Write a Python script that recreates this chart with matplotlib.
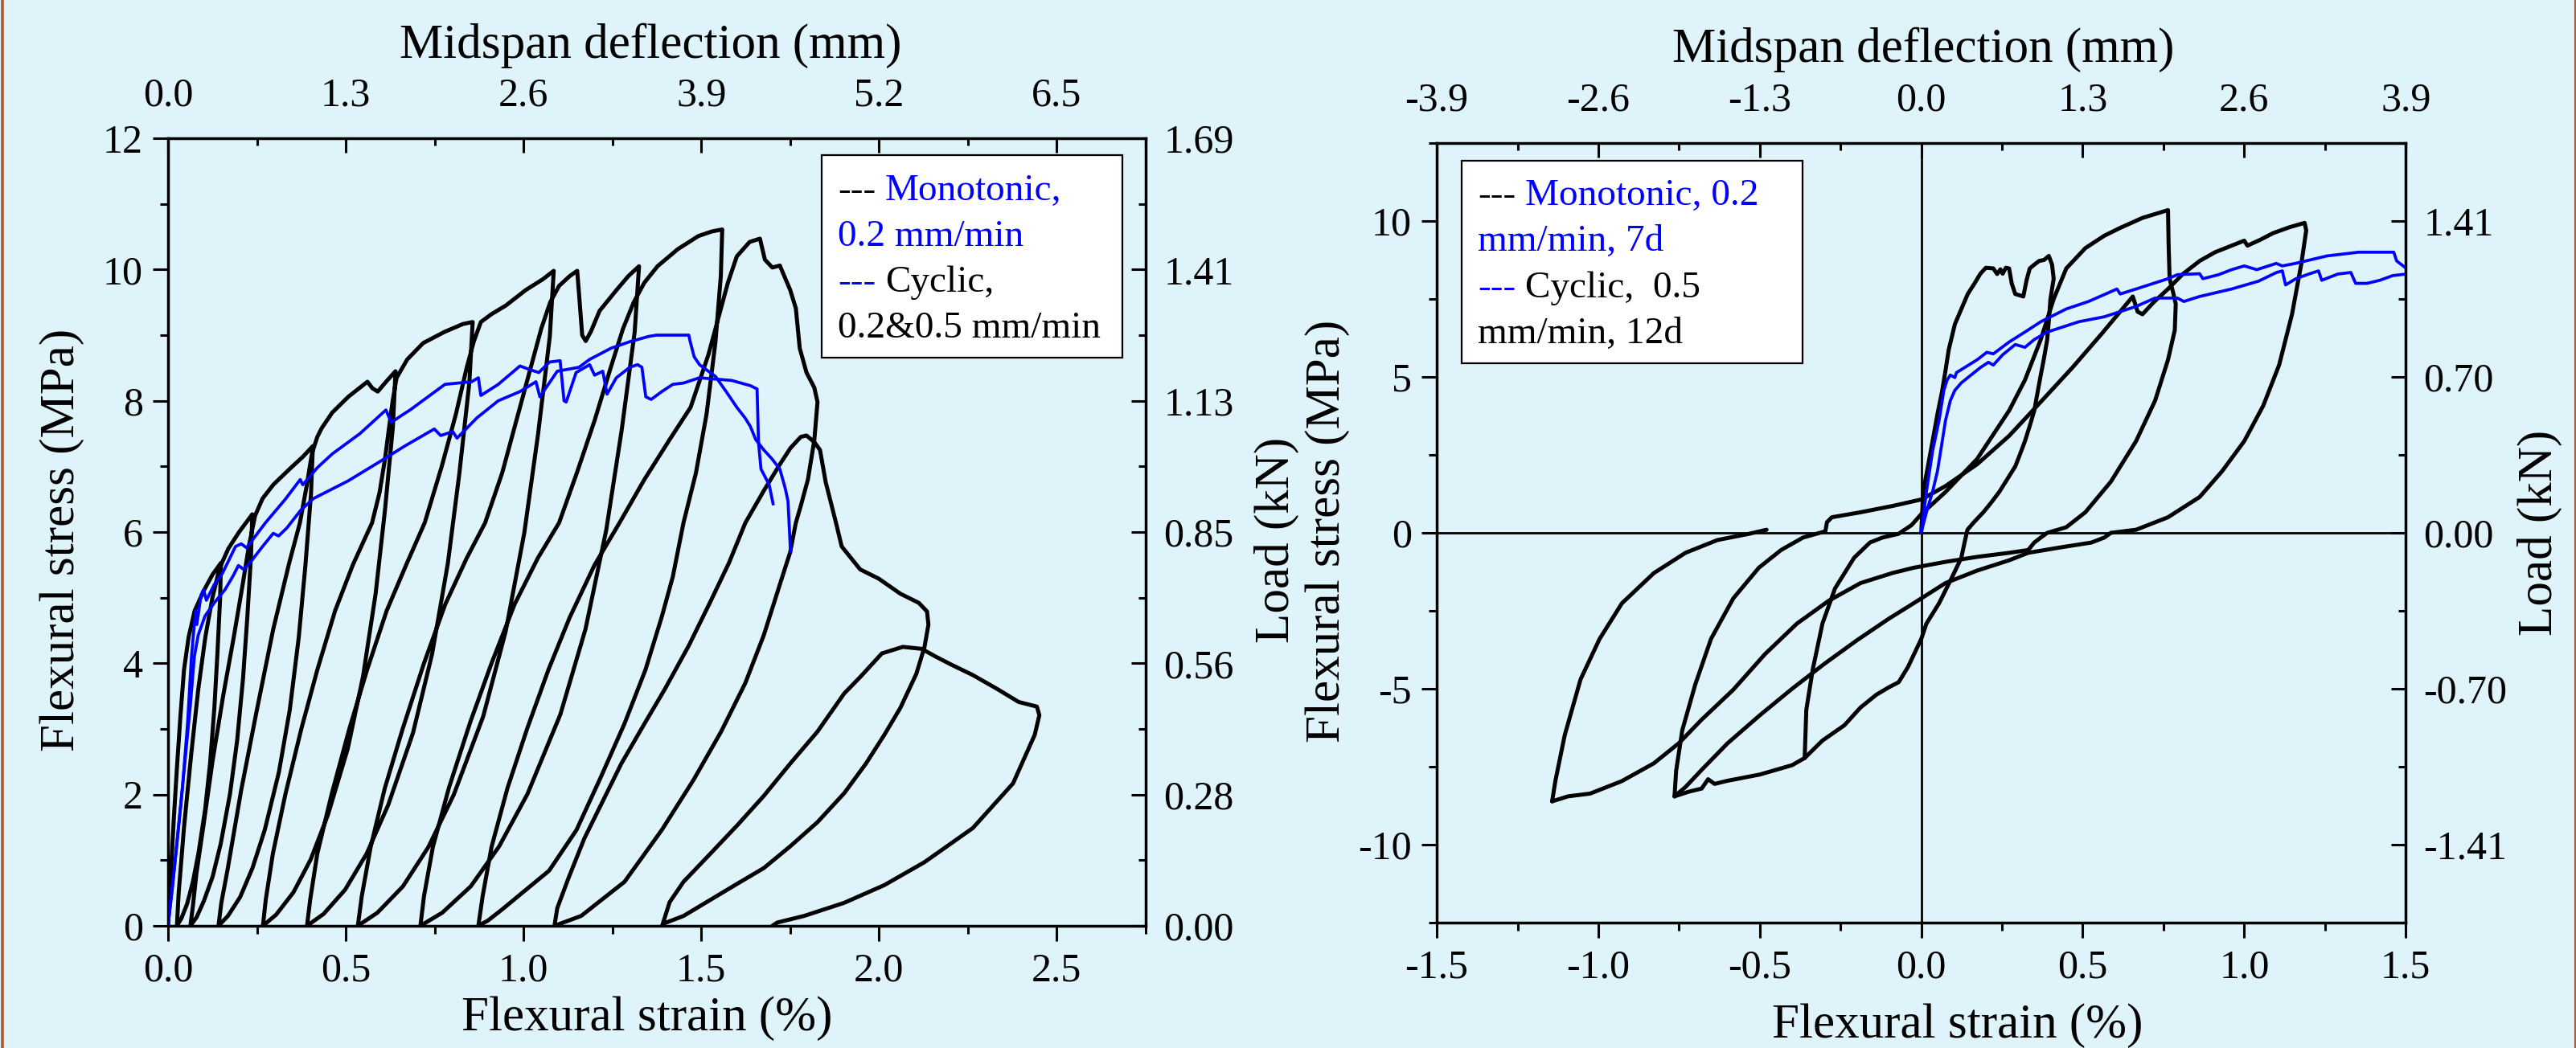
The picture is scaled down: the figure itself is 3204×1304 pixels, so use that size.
import matplotlib
matplotlib.use("Agg")
import matplotlib.pyplot as plt
from matplotlib.ticker import MultipleLocator
from matplotlib.lines import Line2D

plt.rcParams['font.family'] = ['Liberation Serif', 'DejaVu Serif']

BG = '#dff3fa'
BLUE = '#0000ff'

# ---------------- left panel: cyclic test (strain %, stress MPa) ----------------
L_load0 = [(0, 0), (0.008, 0.8), (0.016, 1.6), (0.025, 2.4), (0.035, 3.2), (0.045, 3.9), (0.058, 4.4),
           (0.075, 4.8), (0.10, 5.1), (0.125, 5.35), (0.149, 5.53)]
L_unload1 = [(0.1465, 4.98), (0.139, 4.15), (0.1304, 3.32), (0.1186, 2.49), (0.1044, 1.77), (0.0858, 1.11),
             (0.0696, 0.66), (0.0535, 0.33), (0.0374, 0.11), (0.025, 0)]
L_reload1 = [(0.03, 0.5), (0.045, 1.5), (0.065, 2.6), (0.085, 3.6), (0.105, 4.4), (0.125, 5.0), (0.145, 5.45),
             (0.17, 5.75), (0.2, 6.0), (0.237, 6.27)]
L_unload2 = [(0.2335, 5.64), (0.2231, 4.70), (0.2109, 3.76), (0.1944, 2.82), (0.1744, 2.01), (0.1483, 1.25),
             (0.1256, 0.75), (0.101, 0.38), (0.0804, 0.13), (0.063, 0)]
L_reload2 = [(0.07, 0.3), (0.08, 0.8), (0.099, 1.5), (0.125, 2.5), (0.155, 3.5), (0.185, 4.4), (0.21, 5.2),
             (0.228, 5.8), (0.245, 6.25), (0.266, 6.51), (0.296, 6.72), (0.342, 6.96), (0.38, 7.15), (0.4075, 7.31)]
L_unload3 = [(0.4022, 6.58), (0.3863, 5.48), (0.3677, 4.39), (0.3425, 3.29), (0.3119, 2.34), (0.2721, 1.46),
             (0.2376, 0.88), (0.2031, 0.44), (0.1685, 0.15), (0.142, 0)]
L_reload3 = [(0.150, 0.35), (0.167, 0.84), (0.206, 2.07), (0.25, 3.29), (0.296, 4.52), (0.341, 5.53), (0.371, 6.14),
             (0.39, 6.7), (0.405, 7.2), (0.42, 7.45), (0.432, 7.58), (0.462, 7.82), (0.507, 8.06), (0.561, 8.29),
             (0.575, 8.19), (0.59, 8.14), (0.615, 8.3), (0.64, 8.45)]
L_unload4 = [(0.6325, 7.60), (0.6102, 6.33), (0.584, 5.06), (0.5486, 3.80), (0.5057, 2.70), (0.4498, 1.69),
             (0.4013, 1.01), (0.3528, 0.51), (0.3043, 0.17), (0.267, 0)]
L_reload4 = [(0.275, 0.4), (0.295, 1.1), (0.33, 2.0), (0.375, 3.0), (0.42, 3.9), (0.47, 4.8), (0.52, 5.5),
             (0.574, 6.14), (0.595, 6.6), (0.61, 7.1), (0.622, 7.6), (0.632, 8.0), (0.643, 8.35), (0.673, 8.63),
             (0.718, 8.88), (0.778, 9.05), (0.83, 9.17), (0.857, 9.2)]
L_unload5 = [(0.8477, 8.28), (0.8197, 6.90), (0.7871, 5.52), (0.7428, 4.14), (0.6892, 2.94), (0.6193, 1.84),
             (0.5588, 1.10), (0.4982, 0.55), (0.4376, 0.18), (0.391, 0)]
L_reload5 = [(0.40, 0.4), (0.42, 1.1), (0.46, 2.0), (0.51, 3.0), (0.56, 3.9), (0.615, 4.8), (0.67, 5.5),
             (0.722, 6.14), (0.77, 7.0), (0.81, 7.8), (0.84, 8.5), (0.86, 8.9), (0.88, 9.2), (0.91, 9.32),
             (0.95, 9.45), (1.007, 9.69), (1.054, 9.85), (1.085, 9.98)]
L_unload6 = [(1.074, 8.98), (1.0409, 7.49), (1.0023, 5.99), (0.95, 4.49), (0.8866, 3.19), (0.804, 2.0),
             (0.7324, 1.20), (0.6607, 0.60), (0.5891, 0.20), (0.534, 0)]
L_reload6 = [(0.545, 0.45), (0.57, 1.2), (0.61, 2.1), (0.66, 3.0), (0.72, 4.0), (0.78, 4.9), (0.84, 5.6),
             (0.892, 6.14), (0.94, 6.9), (0.98, 7.7), (1.02, 8.5), (1.05, 9.1), (1.075, 9.5), (1.10, 9.75),
             (1.13, 9.9), (1.151, 9.98), (1.158, 9.5), (1.165, 9.0), (1.175, 8.91), (1.19, 9.06), (1.214, 9.37),
             (1.226, 9.45), (1.262, 9.69), (1.295, 9.9), (1.325, 10.05)]
L_unload8 = [(1.3127, 9.05), (1.2758, 7.54), (1.2327, 6.03), (1.1743, 4.52), (1.1036, 3.22), (1.0113, 2.01),
             (0.9314, 1.21), (0.8514, 0.60), (0.7715, 0.20), (0.71, 0)]
L_reload8 = [(0.72, 0.45), (0.745, 1.2), (0.79, 2.1), (0.85, 3.1), (0.91, 4.0), (0.975, 4.9), (1.04, 5.6),
             (1.10, 6.14), (1.15, 6.9), (1.20, 7.7), (1.245, 8.5), (1.28, 9.1), (1.31, 9.5), (1.34, 9.8),
             (1.377, 10.05), (1.434, 10.31), (1.492, 10.51), (1.53, 10.58), (1.559, 10.61)]
L_unload9 = [(1.555, 9.9), (1.54, 8.9), (1.515, 7.8), (1.485, 6.9), (1.45, 6.14), (1.42, 5.32), (1.389, 4.71),
             (1.343, 3.90), (1.284, 3.08), (1.217, 2.26), (1.149, 1.46), (1.072, 0.84), (0.998, 0.51),
             (0.94, 0.25), (0.90, 0.08), (0.873, 0)]
L_reload9 = [(0.885, 0.45), (0.91, 1.2), (0.955, 2.1), (1.01, 3.0), (1.07, 3.9), (1.13, 4.7), (1.2, 5.5),
             (1.27, 6.14), (1.34, 6.8), (1.41, 7.4), (1.47, 7.9), (1.52, 8.7), (1.55, 9.3), (1.575, 9.8),
             (1.60, 10.2), (1.636, 10.42), (1.665, 10.47)]
L_soften10 = [(1.679, 10.15), (1.70, 10.03), (1.721, 10.06), (1.75, 9.69), (1.766, 9.41), (1.777, 8.80),
              (1.796, 8.43), (1.818, 8.2), (1.827, 7.98)]
L_unloadC1 = [(1.818, 7.4), (1.80, 6.8), (1.78, 6.4), (1.766, 6.14), (1.75, 5.69), (1.721, 5.20), (1.676, 4.43),
              (1.624, 3.70), (1.556, 2.96), (1.479, 2.23), (1.389, 1.46), (1.284, 0.67), (1.162, 0.15), (1.087, 0)]
L_reloadC1 = [(1.095, 0.27), (1.126, 0.72), (1.171, 1.33), (1.223, 1.90), (1.275, 2.47), (1.337, 3.05),
              (1.398, 3.61), (1.465, 4.27), (1.524, 4.92), (1.578, 5.53), (1.624, 6.14), (1.676, 6.63),
              (1.721, 7.03), (1.751, 7.28), (1.78, 7.45), (1.796, 7.47)]
L_soften11 = [(1.818, 7.37), (1.834, 7.25), (1.85, 6.76), (1.879, 6.14), (1.895, 5.78), (1.947, 5.43),
              (1.999, 5.29), (2.06, 5.06), (2.112, 4.92), (2.135, 4.79), (2.139, 4.59)]
L_unloadC2 = [(2.128, 4.25), (2.105, 3.84), (2.06, 3.32), (2.015, 2.91), (1.963, 2.47), (1.902, 2.02),
              (1.827, 1.58), (1.75, 1.21), (1.676, 0.88), (1.601, 0.64), (1.524, 0.39), (1.45, 0.15),
              (1.397, 0.04), (1.39, 0)]
L_reloadC2 = [(1.411, 0.36), (1.45, 0.67), (1.524, 1.09), (1.601, 1.53), (1.676, 1.98), (1.75, 2.47),
              (1.827, 2.96), (1.902, 3.54), (1.947, 3.79), (2.008, 4.15), (2.067, 4.25)]
L_soften12 = [(2.12, 4.22), (2.16, 4.1), (2.203, 3.98), (2.264, 3.82), (2.332, 3.61), (2.393, 3.41),
              (2.444, 3.34), (2.451, 3.21)]
L_unloadC3 = [(2.438, 2.91), (2.377, 2.17), (2.264, 1.49), (2.128, 0.97), (2.015, 0.62), (1.902, 0.35),
              (1.789, 0.15), (1.714, 0.05), (1.70, 0)]

left_cyclic = [L_load0, L_unload1, L_reload1, L_unload2, L_reload2, L_unload3, L_reload3, L_unload4,
               L_reload4, L_unload5, L_reload5, L_unload6, L_reload6, L_unload8, L_reload8, L_unload9,
               L_reload9, L_soften10, L_unloadC1, L_reloadC1, L_soften11, L_unloadC2, L_reloadC2,
               L_soften12, L_unloadC3]

# left panel: monotonic tests
L_mono_a = [(0, 0), (0.017, 0.84), (0.04, 2.06), (0.055, 3.08), (0.066, 4.10), (0.074, 4.59), (0.078, 4.80),
            (0.081, 4.59), (0.093, 5.04), (0.10, 5.12), (0.108, 4.96), (0.13, 5.20), (0.153, 5.37), (0.19, 5.78),
            (0.206, 5.82), (0.221, 5.76), (0.274, 6.14), (0.33, 6.5), (0.372, 6.80), (0.379, 6.72), (0.42, 6.98),
            (0.462, 7.19), (0.54, 7.5), (0.613, 7.86), (0.628, 7.67), (0.658, 7.78), (0.681, 7.86), (0.779, 8.25),
            (0.854, 8.29), (0.873, 8.35), (0.88, 8.08), (0.929, 8.25), (0.99, 8.53), (1.02, 8.47), (1.043, 8.43),
            (1.073, 8.59), (1.103, 8.61), (1.114, 8.0), (1.12, 7.98), (1.148, 8.43), (1.186, 8.55), (1.20, 8.39),
            (1.223, 8.45), (1.235, 8.10), (1.261, 8.35), (1.299, 8.51), (1.321, 8.55), (1.333, 8.51),
            (1.344, 8.06), (1.359, 8.02), (1.389, 8.14), (1.42, 8.25), (1.45, 8.27), (1.495, 8.35), (1.54, 8.33),
            (1.585, 8.31), (1.638, 8.23), (1.657, 8.18), (1.661, 7.37), (1.668, 6.96), (1.691, 6.72),
            (1.702, 6.43)]
L_mono_b = [(0, 0), (0.012, 0.56), (0.025, 1.25), (0.047, 2.47), (0.063, 3.37), (0.074, 4.10), (0.085, 4.43),
            (0.104, 4.72), (0.13, 4.92), (0.16, 5.12), (0.183, 5.33), (0.198, 5.49), (0.213, 5.43), (0.236, 5.57),
            (0.266, 5.78), (0.296, 5.98), (0.311, 5.94), (0.334, 6.06), (0.373, 6.33), (0.409, 6.51),
            (0.507, 6.78), (0.598, 7.08), (0.666, 7.31), (0.749, 7.57), (0.767, 7.47), (0.801, 7.53),
            (0.813, 7.43), (0.869, 7.74), (0.929, 8.0), (0.99, 8.14), (1.035, 8.29), (1.046, 8.06), (1.095, 8.45),
            (1.156, 8.51), (1.186, 8.63), (1.246, 8.80), (1.299, 8.90), (1.352, 8.98), (1.374, 9.0), (1.465, 9.0),
            (1.468, 8.92), (1.48, 8.67), (1.495, 8.55), (1.525, 8.43), (1.54, 8.37), (1.57, 8.14), (1.60, 7.90),
            (1.623, 7.74), (1.638, 7.61), (1.653, 7.41), (1.676, 7.25), (1.698, 7.12), (1.721, 6.96),
            (1.736, 6.67), (1.744, 6.47), (1.747, 6.14), (1.751, 5.70)]

# ---------------- right panel: reversed cyclic test ----------------
R_cycle1 = [(0, 0), (0.006, 1.32), (0.02, 2.1), (0.035, 2.94), (0.05, 3.8), (0.065, 4.57), (0.075, 5.2),
            (0.085, 5.87), (0.095, 6.3), (0.104, 6.69), (0.125, 7.2), (0.144, 7.66), (0.165, 8.0), (0.183, 8.31),
            (0.2, 8.5), (0.223, 8.48), (0.235, 8.3), (0.245, 8.45), (0.252, 8.31), (0.262, 8.5), (0.272, 8.48),
            (0.28, 8.0), (0.291, 7.66), (0.316, 7.58), (0.326, 8.1), (0.336, 8.48), (0.35, 8.6), (0.365, 8.72),
            (0.38, 8.75), (0.395, 8.88), (0.405, 8.6), (0.41, 8.15), (0.40, 7.5), (0.395, 6.8), (0.39, 6.2),
            (0.38, 5.6), (0.37, 5.06), (0.36, 4.5), (0.35, 3.92), (0.335, 3.4), (0.321, 2.94), (0.305, 2.5),
            (0.291, 2.13), (0.265, 1.7), (0.242, 1.32), (0.215, 0.95), (0.193, 0.67), (0.163, 0.34),
            (0.143, 0.10), (0.134, -0.31), (0.124, -0.80), (0.094, -1.45), (0.055, -2.26), (0.016, -2.91),
            (0.0, -3.4), (-0.041, -4.30), (-0.07, -4.79), (-0.1, -4.95), (-0.139, -5.19), (-0.188, -5.60),
            (-0.238, -6.17), (-0.306, -6.66), (-0.361, -7.22)]
R_cycle2 = [(-0.361, -7.22), (-0.356, -5.68), (-0.336, -4.38), (-0.306, -2.91), (-0.267, -1.78), (-0.208, -0.80),
            (-0.159, -0.31), (-0.12, -0.15), (-0.07, -0.03), (-0.03, 0.25), (0.0, 0.6), (0.075, 1.31),
            (0.173, 2.37), (0.272, 3.92), (0.321, 4.90), (0.37, 6.20), (0.41, 7.50), (0.449, 8.48), (0.508, 9.13),
            (0.567, 9.53), (0.616, 9.78), (0.685, 10.10), (0.764, 10.35), (0.766, 9.2), (0.769, 8.15), (0.78, 7.7),
            (0.788, 7.34), (0.785, 6.5), (0.764, 5.55), (0.724, 4.24), (0.665, 2.94), (0.587, 1.64), (0.508, 0.66),
            (0.449, 0.18), (0.39, 0.0), (0.37, -0.15), (0.35, -0.31), (0.331, -0.55), (0.272, -0.64),
            (0.173, -0.77), (0.075, -0.93), (-0.024, -1.12), (-0.09, -1.29), (-0.188, -1.61), (-0.287, -2.18),
            (-0.385, -2.91), (-0.484, -3.89), (-0.582, -5.03), (-0.681, -6.0), (-0.75, -6.74), (-0.828, -7.39),
            (-0.927, -7.96), (-1.025, -8.36), (-1.094, -8.45), (-1.143, -8.61)]
R_unload_big = [(-1.143, -8.61), (-1.133, -7.96), (-1.104, -6.49), (-1.055, -4.70), (-0.996, -3.40),
                (-0.927, -2.26), (-0.828, -1.29), (-0.73, -0.64), (-0.631, -0.23), (-0.533, -0.03), (-0.479, 0.1)]
R_cycle3 = [(-0.764, -8.45), (-0.759, -7.63), (-0.74, -6.33), (-0.70, -4.87), (-0.651, -3.40), (-0.582, -2.10),
            (-0.503, -1.12), (-0.434, -0.55), (-0.366, -0.15), (-0.297, 0.05), (-0.292, 0.34), (-0.277, 0.50),
            (-0.188, 0.66), (-0.09, 0.86), (0, 1.07), (0.075, 1.5), (0.173, 2.2), (0.272, 3.11), (0.37, 4.2),
            (0.468, 5.30), (0.56, 6.4), (0.655, 7.58), (0.67, 7.09), (0.685, 7.01), (0.72, 7.4), (0.764, 7.82),
            (0.81, 8.3), (0.862, 8.72), (0.91, 9.0), (0.961, 9.21), (1.0, 9.37), (1.01, 9.21), (1.05, 9.4),
            (1.089, 9.61), (1.14, 9.8), (1.187, 9.94), (1.192, 9.70), (1.177, 8.64), (1.148, 7.01), (1.108, 5.38),
            (1.059, 4.08), (1.0, 2.94), (0.931, 1.97), (0.862, 1.15), (0.764, 0.50), (0.685, 0.18), (0.665, 0.10),
            (0.587, 0), (0.567, -0.15), (0.527, -0.31), (0.429, -0.47), (0.331, -0.64), (0.272, -0.88),
            (0.173, -1.21), (0.075, -1.61), (-0.024, -2.26), (-0.1, -2.75), (-0.2, -3.45), (-0.3, -4.2),
            (-0.4, -5.0), (-0.5, -5.85), (-0.6, -6.75), (-0.68, -7.6), (-0.73, -8.15), (-0.764, -8.45)]
R_bottom = [(-0.361, -7.22), (-0.40, -7.45), (-0.45, -7.6), (-0.5, -7.75), (-0.55, -7.85), (-0.6, -7.95),
            (-0.64, -8.05), (-0.66, -7.9), (-0.68, -8.2), (-0.72, -8.3), (-0.764, -8.45)]
right_cyclic = [R_cycle1, R_cycle2, R_unload_big, R_cycle3, R_bottom]

R_mono_a = [(0, 0.02), (0.016, 1.32), (0.035, 2.62), (0.055, 3.60), (0.07, 4.57), (0.08, 4.90), (0.09, 5.06),
            (0.104, 4.98), (0.109, 5.14), (0.134, 5.30), (0.173, 5.55), (0.203, 5.79), (0.223, 5.74),
            (0.272, 6.12), (0.321, 6.44), (0.37, 6.77), (0.449, 7.18), (0.518, 7.42), (0.606, 7.82),
            (0.616, 7.66), (0.665, 7.82), (0.764, 8.15), (0.793, 8.28), (0.862, 8.31), (0.872, 8.15),
            (0.921, 8.28), (0.961, 8.44), (1.0, 8.56), (1.039, 8.44), (1.099, 8.64), (1.118, 8.56), (1.158, 8.64),
            (1.256, 8.88), (1.354, 9.0), (1.463, 9.0), (1.472, 8.72), (1.502, 8.48)]
R_mono_b = [(0, 0.02), (0.016, 0.66), (0.035, 1.32), (0.05, 1.97), (0.065, 2.94), (0.075, 3.60), (0.09, 4.24),
            (0.104, 4.57), (0.124, 4.81), (0.154, 5.06), (0.183, 5.30), (0.208, 5.47), (0.223, 5.38),
            (0.252, 5.71), (0.291, 6.04), (0.321, 5.95), (0.35, 6.20), (0.39, 6.44), (0.488, 6.77), (0.567, 6.93),
            (0.665, 7.26), (0.724, 7.53), (0.793, 7.53), (0.813, 7.42), (0.862, 7.58), (0.961, 7.82),
            (1.044, 8.07), (1.1, 8.35), (1.118, 8.4), (1.128, 7.95), (1.16, 8.15), (1.2, 8.3), (1.23, 8.4),
            (1.24, 8.1), (1.29, 8.3), (1.33, 8.35), (1.345, 8.0), (1.38, 8.0), (1.42, 8.1), (1.46, 8.25),
            (1.502, 8.3)]

# axis tick labels as printed on the chart
L_xticks = [0.0, 0.5, 1.0, 1.5, 2.0, 2.5]
L_xticklabels = ['0.0', '0.5', '1.0', '1.5', '2.0', '2.5']
L_topticklabels = ['0.0', '1.3', '2.6', '3.9', '5.2', '6.5']
L_yticks = [0, 2, 4, 6, 8, 10, 12]
L_yticklabels = ['0', '2', '4', '6', '8', '10', '12']
L_loadlabels = ['0.00', '0.28', '0.56', '0.85', '1.13', '1.41', '1.69']

R_xticks = [-1.5, -1.0, -0.5, 0.0, 0.5, 1.0, 1.5]
R_xticklabels = ['-1.5', '-1.0', '-0.5', '0.0', '0.5', '1.0', '1.5']
R_topticklabels = ['-3.9', '-2.6', '-1.3', '0.0', '1.3', '2.6', '3.9']
R_yticks = [-10, -5, 0, 5, 10]
R_yticklabels = ['-10', '-5', '0', '5', '10']
R_loadlabels = ['-1.41', '-0.70', '0.00', '0.70', '1.41']

TICK_FS = 36
LABEL_FS = 44


def xy(segments):
    xs, ys = [], []
    for seg in segments:
        for p in seg:
            xs.append(p[0])
            ys.append(p[1])
    return xs, ys


def style_axes(ax, xlim, ylim, xticks, xlabels, toplabels, yticks, ylabels, loadlabels, xminor, yminor):
    ax.set_facecolor(BG)
    ax.set_xlim(*xlim)
    ax.set_ylim(*ylim)
    ax.set_xticks(xticks)
    ax.set_xticklabels(xlabels)
    ax.set_yticks(yticks)
    ax.set_yticklabels(ylabels)
    ax.xaxis.set_minor_locator(MultipleLocator(xminor))
    ax.yaxis.set_minor_locator(MultipleLocator(yminor))
    ax.tick_params(which='major', direction='out', length=13.5, width=2.2, labelsize=TICK_FS)
    ax.tick_params(which='minor', direction='out', length=7, width=2.2)
    ax.tick_params(axis='y', which='major', pad=9)
    ax.tick_params(axis='x', which='major', pad=10)
    for s in ax.spines.values():
        s.set_linewidth(2.5)

    top = ax.twiny()
    top.set_xlim(*xlim)
    top.set_xticks(xticks)
    top.set_xticklabels(toplabels)
    top.xaxis.set_minor_locator(MultipleLocator(xminor))
    top.tick_params(which='major', direction='in', length=13, width=2.2, labelsize=TICK_FS, pad=21)
    top.tick_params(which='minor', direction='in', length=6.5, width=2.2)

    right = ax.twinx()
    right.set_ylim(*ylim)
    right.set_yticks(yticks)
    right.set_yticklabels(loadlabels)
    right.yaxis.set_minor_locator(MultipleLocator(yminor))
    right.tick_params(which='major', direction='in', length=13, width=2.2, labelsize=TICK_FS, pad=16)
    right.tick_params(which='minor', direction='in', length=6.5, width=2.2)
    return top, right


def legend_box(ax, box, lines, x0, baselines):
    ax.add_patch(plt.Rectangle((box[0], box[1]), box[2] - box[0], box[3] - box[1], transform=ax.transAxes,
                               facecolor='white', edgecolor='black', linewidth=1.6, zorder=6))
    for parts, yb in zip(lines, baselines):
        prev = None
        for text, color in parts:
            if prev is None:
                prev = ax.text(x0, yb, text, color=color, fontsize=34, transform=ax.transAxes,
                               va='baseline', ha='left', zorder=7)
            else:
                prev = ax.annotate(text, xy=(1, 0), xycoords=prev, xytext=(8.5, 0), textcoords='offset points',
                                   color=color, fontsize=34, va='bottom', ha='left', zorder=7)


fig = plt.figure(figsize=(32.05, 13.04), dpi=100, facecolor=BG)
fig.add_artist(Line2D([0.0008, 0.0008], [0, 1], transform=fig.transFigure, color='#a85a35', linewidth=2.6))
fig.add_artist(Line2D([0.9994, 0.9994], [0, 1], transform=fig.transFigure, color='#a85a35', linewidth=1.6))

# ---- left panel ----
ax1 = fig.add_axes([0.0652, 0.1166, 0.3794, 0.7515])
top1, right1 = style_axes(ax1, (0, 2.75), (0, 12), L_xticks, L_xticklabels, L_topticklabels,
                          L_yticks, L_yticklabels, L_loadlabels, 0.25, 1)
x, y = xy(left_cyclic)
ax1.plot(x, y, color='black', linewidth=3.6, solid_joinstyle='round', solid_capstyle='round', zorder=3)
for seg in (L_mono_a, L_mono_b):
    x, y = xy([seg])
    ax1.plot(x, y, color=BLUE, linewidth=2.7, solid_joinstyle='round', zorder=4)

ax1.text(0.494, 1.118, 'Midspan deflection (mm)', transform=ax1.transAxes, fontsize=LABEL_FS,
         ha='center', va='center')
ax1.text(0.49, -0.118, 'Flexural strain (%)', transform=ax1.transAxes, fontsize=LABEL_FS,
         ha='center', va='center')
ax1.text(-0.1086, 0.49, 'Flexural stress (MPa)', transform=ax1.transAxes, fontsize=LABEL_FS, ha='center',
         va='center', rotation=90)
ax1.text(1.134, 0.49, 'Load (kN)', transform=ax1.transAxes, fontsize=LABEL_FS, ha='center', va='center',
         rotation=90)

legend_box(ax1, (0.6686, 0.7214, 0.9762, 0.9786),
           [[('---', 'black'), ('Monotonic,', BLUE)],
            [('0.2 mm/min', BLUE)],
            [('---', BLUE), ('Cyclic,', 'black')],
            [('0.2&0.5 mm/min', 'black')]],
           0.685, [0.9214, 0.8633, 0.8051, 0.7469])

# ---- right panel ----
ax2 = fig.add_axes([0.5576, 0.1196, 0.376, 0.7439])
top2, right2 = style_axes(ax2, (-1.5, 1.5), (-12.5, 12.5), R_xticks, R_xticklabels, R_topticklabels,
                          R_yticks, R_yticklabels, R_loadlabels, 0.25, 2.5)
ax2.axhline(0, color='black', linewidth=2.0, zorder=2)
ax2.axvline(0, color='black', linewidth=2.0, zorder=2)
for seg in right_cyclic:
    x, y = xy([seg])
    ax2.plot(x, y, color='black', linewidth=3.6, solid_joinstyle='round', solid_capstyle='round', zorder=3)
for seg in (R_mono_a, R_mono_b):
    x, y = xy([seg])
    ax2.plot(x, y, color=BLUE, linewidth=2.7, solid_joinstyle='round', zorder=4)

ax2.text(0.502, 1.12, 'Midspan deflection (mm)', transform=ax2.transAxes, fontsize=LABEL_FS,
         ha='center', va='center')
ax2.text(0.537, -0.132, 'Flexural strain (%)', transform=ax2.transAxes, fontsize=LABEL_FS,
         ha='center', va='center')
ax2.text(-0.113, 0.502, 'Flexural stress (MPa)', transform=ax2.transAxes, fontsize=LABEL_FS, ha='center',
         va='center', rotation=90)
ax2.text(1.138, 0.5, 'Load (kN)', transform=ax2.transAxes, fontsize=LABEL_FS, ha='center', va='center',
         rotation=90)

legend_box(ax2, (0.0257, 0.7175, 0.3776, 0.9773),
           [[('---', 'black'), ('Monotonic, 0.2', BLUE)],
            [('mm/min, 7d', BLUE)],
            [('---', BLUE), ('Cyclic,  0.5', 'black')],
            [('mm/min, 12d', 'black')]],
           0.0423, [0.9206, 0.8619, 0.8021, 0.7433])

fig.savefig('out.png', dpi=100, facecolor=BG)
